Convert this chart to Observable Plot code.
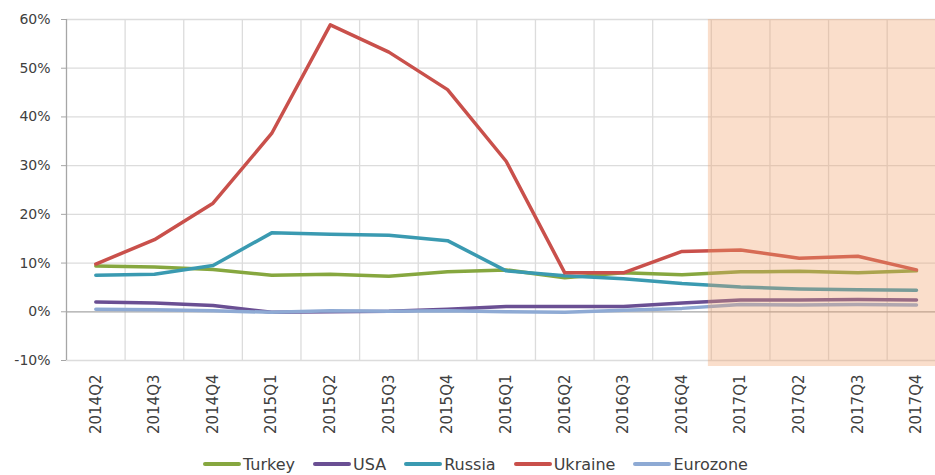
<!DOCTYPE html>
<html>
<head>
<meta charset="utf-8">
<script src="https://cdn.jsdelivr.net/npm/d3@7"></script>
<script src="https://cdn.jsdelivr.net/npm/@observablehq/plot@0.6"></script>
<style>
  html, body { margin: 0; padding: 0; background: #fff; overflow: hidden; }
  #chart { position: relative; width: 935px; height: 475px; }
  #legend {
    position: absolute; left: 203px; top: 452px; height: 24px;
    display: flex; align-items: center;
    font-family: "DejaVu Sans", sans-serif; font-size: 16px; color: #404040;
  }
  .item { display: flex; align-items: center; margin-right: 18px; }
  .swatch { width: 38px; height: 4px; border-radius: 2px; margin-right: 2px; }
</style>
</head>
<body>
<div id="chart"><div id="legend"></div></div>
<script>
// Quarterly inflation, % year on year
const quarters = ["2014Q2","2014Q3","2014Q4","2015Q1","2015Q2","2015Q3","2015Q4","2016Q1","2016Q2","2016Q3","2016Q4","2017Q1","2017Q2","2017Q3","2017Q4"];
const turkey   = [9.4, 9.2, 8.7, 7.5, 7.7, 7.3, 8.2, 8.6, 7.0, 8.0, 7.6, 8.2, 8.3, 8.0, 8.4];
const usa      = [2.0, 1.8, 1.3, -0.1, 0.0, 0.1, 0.5, 1.1, 1.1, 1.1, 1.8, 2.4, 2.4, 2.5, 2.4];
const russia   = [7.5, 7.7, 9.5, 16.2, 15.9, 15.7, 14.6, 8.4, 7.4, 6.8, 5.8, 5.1, 4.7, 4.5, 4.4];
const ukraine  = [9.8, 14.8, 22.3, 36.6, 58.9, 53.3, 45.6, 30.9, 8.0, 8.0, 12.4, 12.7, 11.0, 11.4, 8.6];
const eurozone = [0.5, 0.4, 0.2, -0.1, 0.2, 0.1, 0.2, 0.0, -0.1, 0.3, 0.7, 1.5, 1.4, 1.5, 1.4];
const yTicks   = [-10, 0, 10, 20, 30, 40, 50, 60];
const forecastFrom = "2017Q1";

const seriesNames  = ["Turkey", "USA", "Russia", "Ukraine", "Eurozone"];
const seriesValues = [turkey, usa, russia, ukraine, eurozone];
const colors = ["#86a73f", "#6a4f93", "#3a9ab1", "#c9504b", "#8eaad4"];

const rows = seriesNames.flatMap((name, s) =>
  seriesValues[s].map((v, i) => ({series: name, i, value: v}))
);
const boundaries = quarters.map((q, i) => i - 0.5);
const fStart = quarters.indexOf(forecastFrom);

const textColor = "#404040";
const gridColor = "#dcdcdc";

const plot = Plot.plot({
  width: 935,
  height: 445,
  marginLeft: 66,
  marginRight: 0,
  marginTop: 19,
  marginBottom: 85,
  style: {fontFamily: "DejaVu Sans, sans-serif", color: textColor, overflow: "hidden", background: "#fff"},
  x: {type: "linear", domain: [-0.5, quarters.length - 0.5], range: [66, 66 + quarters.length * 58.62], axis: null},
  y: {domain: [-10, 60], axis: null},
  color: {domain: seriesNames, range: colors},
  marks: [
    Plot.ruleY(yTicks.filter(d => d !== 0), {stroke: gridColor, strokeWidth: 1.3}),
    Plot.ruleX(boundaries.slice(1), {stroke: gridColor, strokeWidth: 1.3}),
    Plot.ruleY([0], {stroke: "#a6a6a6", strokeWidth: 1.3}),
    Plot.ruleX([-0.5], {stroke: "#a6a6a6", strokeWidth: 1.3}),
    Plot.axisY(yTicks, {
      label: null, tickSize: 5, tickPadding: 11, fontSize: 14, stroke: "#a6a6a6",
      tickFormat: d => d + "%", fill: textColor
    }),
    Plot.axisX(quarters.map((q, i) => i), {
      label: null, tickSize: 0, tickPadding: 14, tickRotate: -90, fontSize: 15,
      tickFormat: i => quarters[i], fill: textColor
    }),
    Plot.line(rows, {
      x: "i", y: "value", z: "series", stroke: "series",
      strokeWidth: 3.5, strokeLinecap: "round", strokeLinejoin: "round"
    }),
    Plot.rect([forecastFrom], {
      x1: () => fStart - 0.55, x2: () => quarters.length - 0.5,
      fill: "#f0a06a", fillOpacity: 0.35, insetBottom: -6
    })
  ]
});
document.getElementById("chart").prepend(plot);

const legend = document.getElementById("legend");
seriesNames.forEach((name, s) => {
  const item = document.createElement("div");
  item.className = "item";
  item.innerHTML = `<div class="swatch" style="background:${colors[s]}"></div><span>${name}</span>`;
  legend.appendChild(item);
});
</script>
</body>
</html>
